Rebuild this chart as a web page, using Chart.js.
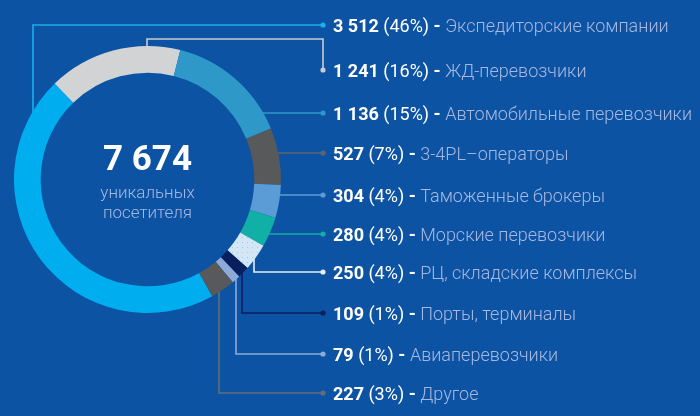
<!DOCTYPE html>
<html><head><meta charset="utf-8">
<script src="https://cdn.jsdelivr.net/npm/chart.js@4/dist/chart.umd.min.js"></script>
<style>html,body{margin:0;padding:0;background:#0d53a3;overflow:hidden}#wrap{width:700px;height:416px}</style>
</head><body><div id="wrap"><canvas id="c" width="700" height="416"></canvas></div>
<script>
// ---- data ----
const categories = ['Экспедиторские компании','ЖД-перевозчики','Автомобильные перевозчики','3-4PL\u2013операторы','Таможенные брокеры','Морские перевозчики','РЦ, складские комплексы','Порты, терминалы','Авиаперевозчики','Другое'];
const values = [3512,1241,1136,527,304,280,250,109,79,227];
const percents = ['46%','16%','15%','7%','4%','4%','4%','1%','1%','3%'];
const totalLabel = '7 674';
const centerCaption = ['уникальных','посетителя'];

// ---- style ----
function dotPattern(){
  const p=document.createElement('canvas');p.width=5;p.height=5;
  const g=p.getContext('2d');g.fillStyle='#d3e6f6';g.fillRect(0,0,5,5);
  g.fillStyle='#a9c8e8';g.fillRect(2,2,1,1);
  return g.createPattern(p,'repeat');
}
const sliceColors = ['#00adee','#d1d3d5','#2e98c8','#58595b','#5b9bd6','#11b0a6',null,'#0a1f5d','#8eaad7','#58595b'];
const lineColors  = ['#19b0ee','#c9ccd1','#2e98c8','#5f6470','#5b9bd6','#11b0a6','#e6eef8','#0a1f5d','#8eaad7','#676c78'];
// label row positions & connector routing (layout only)
const rowY = [25,70,113,153,195,234,272,313,354,393];
const dotX = 323, textX = 333;
const routes = [{t:'L',vx:33},{t:'U',hy:39,vx:147},{t:'h'},{t:'h'},{t:'h'},{t:'h'},{t:'L',vx:254},{t:'L',vx:242},{t:'L',vx:236},{t:'L',vx:219}];

function fmt(n){return String(n).replace(/\B(?=(\d{3})+(?!\d))/g,' ');}

const connectors = {
  id:'connectors',
  beforeDatasetsDraw(chart){
    const ctx=chart.ctx, arc=chart.getDatasetMeta(0).data[0];
    const cx=arc.x, cy=arc.y, r=arc.outerRadius-1;
    ctx.save();ctx.lineWidth=1.6;
    routes.forEach((rt,i)=>{
      const y=rowY[i];
      ctx.strokeStyle=lineColors[i];ctx.fillStyle=lineColors[i];
      ctx.beginPath();ctx.moveTo(dotX,y);
      if(rt.t==='h'){
        const dy=y-cy; ctx.lineTo(cx+Math.sqrt(r*r-dy*dy),y);
      } else if(rt.t==='L'){
        const dx=rt.vx-cx, h=Math.sqrt(r*r-dx*dx);
        ctx.lineTo(rt.vx,y); ctx.lineTo(rt.vx, y<cy? cy-h : cy+h);
      } else {
        const dx=rt.vx-cx, h=Math.sqrt(r*r-dx*dx);
        ctx.lineTo(dotX,rt.hy); ctx.lineTo(rt.vx,rt.hy); ctx.lineTo(rt.vx,cy-h);
      }
      ctx.stroke();
      ctx.beginPath();ctx.arc(dotX,y,2.6,0,Math.PI*2);ctx.fill();
    });
    ctx.restore();
  },
  afterDatasetsDraw(chart){
    const ctx=chart.ctx, arc=chart.getDatasetMeta(0).data[0];
    const cx=arc.x, cy=arc.y;
    ctx.save();
    ctx.textBaseline='middle';
    categories.forEach((c,i)=>{
      let x=textX; const y=rowY[i]+2;
      ctx.fillStyle='#ffffff';
      ctx.font='bold 18px Roboto';
      const a=fmt(values[i])+' ';
      ctx.fillText(a,x,y); x+=ctx.measureText(a).width;
      ctx.font='18px Roboto';
      const b='('+percents[i]+')';
      ctx.fillText(b,x,y); x+=ctx.measureText(b).width;
      ctx.font='bold 18px Roboto';
      const d=' - ';
      ctx.fillText(d,x,y); x+=ctx.measureText(d).width;
      ctx.font='300 18px Roboto';
      ctx.fillStyle='#a6b8e0';
      ctx.fillText(c,x,y);
    });
    ctx.textAlign='center';
    ctx.fillStyle='#ffffff';ctx.font='bold 35px Roboto';
    ctx.fillText(totalLabel,cx,cy-18);
    ctx.fillStyle='#a6b8e0';ctx.font='300 17px Roboto';
    ctx.fillText(centerCaption[0],cx,cy+14);
    ctx.fillText(centerCaption[1],cx,cy+34);
    ctx.restore();
  }
};

const cols = sliceColors.map(c=>c||dotPattern());
new Chart(document.getElementById('c'),{
  type:'doughnut',
  data:{labels:categories,datasets:[{data:values,backgroundColor:cols,borderWidth:0}]},
  options:{
    responsive:false,animation:false,
    rotation:151,cutout:'80%',
    layout:{padding:{left:13,top:46,right:418,bottom:103}},
    plugins:{legend:{display:false},tooltip:{enabled:false}}
  },
  plugins:[connectors]
});
</script></body></html>
